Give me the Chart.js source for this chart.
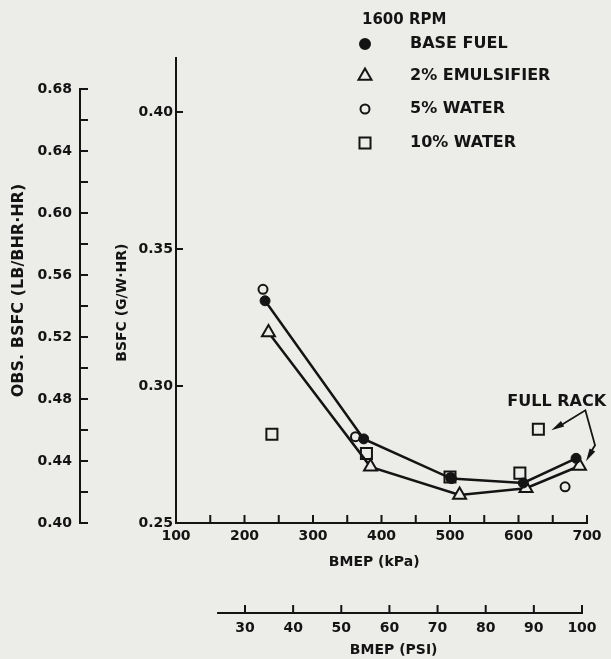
<!DOCTYPE html>
<html><head><meta charset="utf-8">
<style>
html,body{margin:0;padding:0;background:#ecece9;}
#wrap{width:611px;height:659px;position:relative;}
canvas{display:block;}
</style>
<script src="https://cdn.jsdelivr.net/npm/chart.js@4.4.1/dist/chart.umd.min.js"></script>
</head><body><div id="wrap"><canvas id="c" width="611" height="659"></canvas></div>
<script>
// ---- tick values / labels ----
const kpaTicks = [100,150,200,250,300,350,400,450,500,550,600,650,700];
const kpaLabels = [100,200,300,400,500,600,700];
const psiTicks = [30,40,50,60,70,80,90,100];
const psiAxisStart = 24.2;
const bsfcTicks = [0.25,0.30,0.35,0.40];
const obsTicks = [0.40,0.42,0.44,0.46,0.48,0.50,0.52,0.54,0.56,0.58,0.60,0.62,0.64,0.66,0.68];
const obsLabels = [0.40,0.44,0.48,0.52,0.56,0.60,0.64,0.68];

// ---- series (BMEP kPa, BSFC g/W-hr) ----
const baseFuelX = [230,374,502,607,684];
const baseFuelY = [0.3311,0.2807,0.2662,0.2646,0.2736];
const emulsX = [235,384,514,611,689];
const emulsY = [0.3195,0.2705,0.2602,0.2627,0.2708];
const water5X = [227,362,501,668];
const water5Y = [0.3353,0.2815,0.2666,0.2632];
const water10X = [240,378,500,602,629];
const water10Y = [0.2824,0.2754,0.2668,0.2682,0.2842];
const fullRack = {square:[629,0.2842], dot:[684,0.2736]};

const INK = '#141414';
const BG = '#ecece9';
const FONT = "'DejaVu Sans', sans-serif";
const NB = '\u00A0';
const pts = (xs,ys)=>xs.map((x,i)=>({x:x,y:ys[i]}));

function line(ctx,x1,y1,x2,y2){ctx.beginPath();ctx.moveTo(x1,y1);ctx.lineTo(x2,y2);ctx.stroke();}
function arrowHead(ctx,tx,ty,fx,fy){
  const a=Math.atan2(ty-fy,tx-fx), L=13, W=3.2;
  ctx.beginPath();
  ctx.moveTo(tx,ty);
  ctx.lineTo(tx-L*Math.cos(a)+W*Math.sin(a), ty-L*Math.sin(a)-W*Math.cos(a));
  ctx.lineTo(tx-L*Math.cos(a)-W*Math.sin(a), ty-L*Math.sin(a)+W*Math.cos(a));
  ctx.closePath(); ctx.fill();
}
function marker(ctx,style,x,y,r,filled){
  ctx.beginPath();
  if(style==='circle'){ctx.arc(x,y,r,0,Math.PI*2);}
  else if(style==='triangle'){
    ctx.moveTo(x,y-r);ctx.lineTo(x+r*0.866,y+r*0.5);ctx.lineTo(x-r*0.866,y+r*0.5);ctx.closePath();
  } else { const s=r*0.7071; ctx.rect(x-s,y-s,2*s,2*s); }
  ctx.fillStyle = filled?INK:BG; ctx.fill(); ctx.lineWidth=2; ctx.strokeStyle=INK; ctx.stroke();
}

const axisMarks = {
  id:'axisMarks',
  afterDraw(chart){
    const ctx=chart.ctx, s=chart.scales, L=8;
    ctx.save(); ctx.strokeStyle=INK; ctx.lineWidth=2; ctx.lineCap='butt';
    kpaTicks.forEach(v=>{ if(v===s.x.min) return; const p=s.x.getPixelForValue(v); line(ctx,p,s.x.top,p,s.x.top-L); });
    bsfcTicks.forEach(v=>{ if(v===s.y.min) return; const p=s.y.getPixelForValue(v); line(ctx,s.y.right,p,s.y.right+7,p); });
    const ox=s.obs.right;
    line(ctx,ox,s.obs.getPixelForValue(obsTicks[0])+1,ox,s.obs.getPixelForValue(obsTicks[obsTicks.length-1])-1);
    obsTicks.forEach(v=>{ const p=s.obs.getPixelForValue(v); line(ctx,ox-1,p,ox+L,p); });
    const py=s.psi.top+13;
    line(ctx,s.psi.getPixelForValue(psiAxisStart),py,s.psi.getPixelForValue(psiTicks[psiTicks.length-1])+1,py);
    psiTicks.forEach(v=>{ const p=s.psi.getPixelForValue(v); line(ctx,p,py,p,py-L); });
    ctx.restore();
  }
};

const legendAndNotes = {
  id:'legendAndNotes',
  afterDatasetsDraw(chart){
    const ctx=chart.ctx, s=chart.scales;
    ctx.save();
    ctx.fillStyle=INK; ctx.textBaseline='middle'; ctx.textAlign='left';
    ctx.font="bold 15px "+FONT;
    ctx.fillText('1600 RPM',362,20);
    ctx.font="bold 16px "+FONT;
    const rows=[44,76,109,143];
    chart.data.datasets.forEach((d,i)=>{
      const sz={circle: d.backgroundColor===INK?5:4.5, triangle:7.5, rect:7.8}[d.pointStyle];
      marker(ctx,d.pointStyle,365,rows[i],sz,d.backgroundColor===INK);
      ctx.fillStyle=INK;
      ctx.fillText(d.label,410,rows[i]);
    });
    // FULL RACK annotation
    const sq={x:s.x.getPixelForValue(fullRack.square[0]),y:s.y.getPixelForValue(fullRack.square[1])};
    const dt={x:s.x.getPixelForValue(fullRack.dot[0]),y:s.y.getPixelForValue(fullRack.dot[1])};
    ctx.font="bold 16px "+FONT; ctx.textAlign='left';
    ctx.fillText('FULL RACK',sq.x-31,sq.y-27);
    ctx.strokeStyle=INK; ctx.lineWidth=1.8;
    const a0={x:sq.x+13,y:sq.y+1}, v={x:sq.x+47,y:sq.y-19}, a1={x:dt.x+10,y:dt.y+3};
    const k={x:dt.x+19,y:dt.y-13};
    ctx.beginPath(); ctx.moveTo(a0.x+8,a0.y-4); ctx.lineTo(v.x,v.y); ctx.lineTo(k.x,k.y); ctx.lineTo(a1.x+4,a1.y-8); ctx.stroke();
    arrowHead(ctx,a0.x,a0.y,v.x,v.y);
    arrowHead(ctx,a1.x,a1.y,k.x,k.y);
    ctx.restore();
  }
};

const tickFont = {family:FONT,size:14,weight:'bold'};
new Chart(document.getElementById('c'),{
  type:'scatter',
  data:{datasets:[
    {label:'BASE FUEL',data:pts(baseFuelX,baseFuelY),showLine:true,borderColor:INK,borderWidth:2.5,
     pointStyle:'circle',pointRadius:5,backgroundColor:INK,pointBorderColor:INK,pointBackgroundColor:INK,pointBorderWidth:1,order:0},
    {label:'2% EMULSIFIER',data:pts(emulsX,emulsY),showLine:true,borderColor:INK,borderWidth:2.5,
     pointStyle:'triangle',pointRadius:7.5,backgroundColor:BG,pointBackgroundColor:BG,pointBorderColor:INK,pointBorderWidth:2,order:1},
    {label:'5% WATER',data:pts(water5X,water5Y),showLine:false,
     pointStyle:'circle',pointRadius:4.5,backgroundColor:BG,pointBackgroundColor:BG,pointBorderColor:INK,pointBorderWidth:2,order:2},
    {label:'10% WATER',data:pts(water10X,water10Y),showLine:false,
     pointStyle:'rect',pointRadius:7.8,backgroundColor:BG,pointBackgroundColor:BG,pointBorderColor:INK,pointBorderWidth:2,order:3}
  ]},
  options:{
    responsive:false,animation:false,devicePixelRatio:1,clip:false,
    layout:{padding:{left:0,right:24,top:58,bottom:0}},
    plugins:{legend:{display:false},tooltip:{enabled:false}},
    elements:{line:{tension:0}},
    scales:{
      x:{type:'linear',position:'bottom',weight:0,min:100,max:700,
        afterBuildTicks:sc=>{sc.ticks=kpaTicks.map(v=>({value:v}));},
        afterFit:sc=>{sc.height=77;},
        ticks:{autoSkip:false,maxRotation:0,padding:0,color:INK,font:tickFont,
          callback:v=>kpaLabels.includes(v)?String(v):''},
        grid:{display:false,drawTicks:true,tickLength:5},
        border:{display:true,color:INK,width:2},
        title:{display:true,text:'BMEP (kPa)'+NB+NB+NB,color:INK,font:tickFont,padding:{top:0,bottom:29}}},
      psi:{type:'linear',position:'bottom',weight:1,min:15.67,max:101.04,
        afterBuildTicks:sc=>{sc.ticks=psiTicks.map(v=>({value:v}));},
        afterFit:sc=>{sc.height=59;},
        ticks:{autoSkip:false,maxRotation:0,padding:0,color:INK,font:tickFont,callback:v=>String(v)},
        grid:{display:false,drawTicks:true,tickLength:20},
        border:{display:false},
        title:{display:true,text:NB+NB+NB+NB+NB+'BMEP (PSI)',color:INK,font:tickFont,padding:{top:0,bottom:0}}},
      y:{type:'linear',position:'left',weight:0,min:0.25,max:0.4197,
        afterBuildTicks:sc=>{sc.ticks=bsfcTicks.map(v=>({value:v}));},
        afterFit:sc=>{sc.width=96;},
        ticks:{padding:3,color:INK,font:tickFont,callback:v=>v.toFixed(2)},
        grid:{display:false,drawTicks:false},
        border:{display:true,color:INK,width:2},
        title:{display:true,text:'BSFC (G/W\u00B7HR)'+NB+NB+NB+NB+NB,color:INK,font:tickFont,padding:{top:34,bottom:0}}},
      obs:{type:'linear',position:'left',weight:1,min:0.40,max:0.70,
        afterBuildTicks:sc=>{sc.ticks=obsTicks.map(v=>({value:v}));},
        afterFit:sc=>{sc.width=80;},
        ticks:{padding:8,color:INK,font:tickFont,autoSkip:false,
          callback:v=>obsLabels.some(l=>Math.abs(l-v)<1e-9)?v.toFixed(2):''},
        grid:{display:false,drawTicks:false},
        border:{display:false},
        title:{display:true,text:'OBS. BSFC (LB/BHR\u00B7HR)',color:INK,font:{family:FONT,size:16,weight:'bold'},padding:{top:9,bottom:0}}}
    }
  },
  plugins:[axisMarks,legendAndNotes]
});
</script></body></html>
